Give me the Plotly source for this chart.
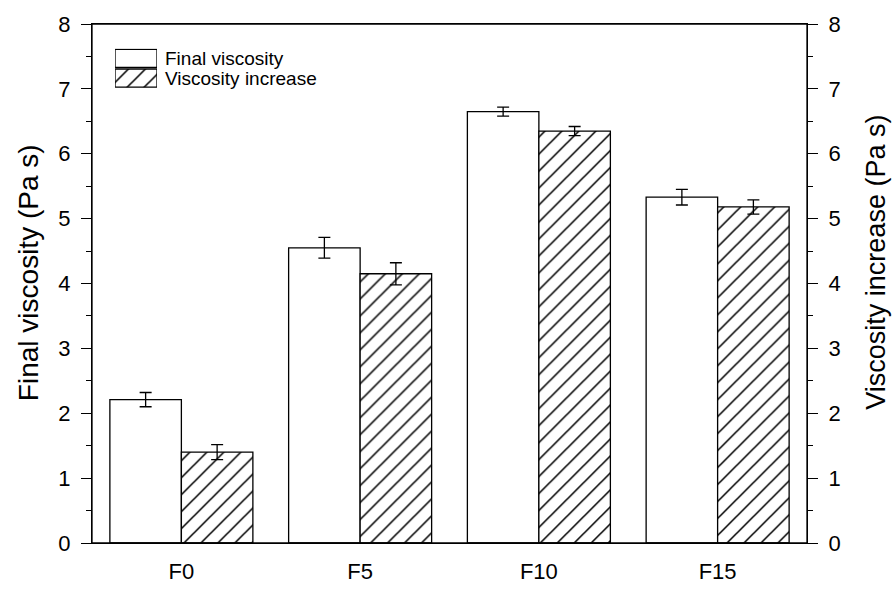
import plotly.graph_objects as go

# Sample formulations
categories = ["F0", "F5", "F10", "F15"]

# Final viscosity (Pa s) with standard deviation
final_name = "Final viscosity"
final_viscosity = [2.21, 4.55, 6.65, 5.33]
final_err = [0.11, 0.16, 0.07, 0.12]

# Viscosity increase (Pa s) with standard deviation
increase_name = "Viscosity increase"
viscosity_increase = [1.40, 4.15, 6.35, 5.18]
increase_err = [0.115, 0.17, 0.07, 0.11]

font_family = "Liberation Sans, Arial, sans-serif"
plain_fill = dict(color="white", line=dict(color="black", width=1.3))
hatch_fill = dict(color="white", line=dict(color="black", width=1.3),
                  pattern=dict(shape="/", fgcolor="black", bgcolor="white",
                               fgopacity=1, fillmode="replace",
                               size=12, solidity=0.13))

fig = go.Figure()

fig.add_trace(go.Bar(
    x=categories, y=final_viscosity, name=final_name,
    width=0.4, offset=-0.4, marker=plain_fill,
    error_y=dict(type="data", array=final_err, color="black", thickness=1.3, width=6),
))

fig.add_trace(go.Bar(
    x=categories, y=viscosity_increase, name=increase_name,
    width=0.4, offset=0.0, yaxis="y2", marker=hatch_fill,
    error_y=dict(type="data", array=increase_err, color="black", thickness=1.3, width=6),
))

# Key: two swatches drawn as bars on a small inset axis, labelled with the series names
for row, (label, fill) in enumerate([(increase_name, hatch_fill), (final_name, plain_fill)]):
    fig.add_trace(go.Bar(
        x=[1], y=[row + 0.5], base=0, orientation="h", width=0.92,
        xaxis="x3", yaxis="y3", marker=fill, cliponaxis=False,
        hoverinfo="skip", showlegend=False,
    ))
    fig.add_annotation(
        x=1, y=row + 0.5, xref="x3", yref="y3", text=label, showarrow=False,
        xanchor="left", yanchor="middle", xshift=6,
        font=dict(family=font_family, size=19, color="black"),
    )

axis_common = dict(
    range=[0, 8], dtick=1, ticks="outside", ticklen=10, tickwidth=1.3,
    tickcolor="black", showline=True, linecolor="black", linewidth=1.3,
    showgrid=False, zeroline=False, ticklabelstandoff=6,
    tickfont=dict(family=font_family, size=22, color="black"),
    minor=dict(dtick=0.5, ticks="outside", ticklen=5, tickwidth=1.3,
               tickcolor="black", showgrid=False),
)

fig.update_layout(
    width=892, height=596,
    margin=dict(l=92, r=85, t=17, b=35),
    plot_bgcolor="white", paper_bgcolor="white",
    barmode="overlay",
    showlegend=False,
    xaxis=dict(
        range=[-0.5, 3.5], showline=True, linecolor="black", linewidth=1.3,
        mirror="all", ticks="", showgrid=False, ticklabelstandoff=8,
        tickfont=dict(family=font_family, size=22, color="black"),
    ),
    yaxis=dict(**axis_common),
    yaxis2=dict(overlaying="y", side="right", anchor="x", **axis_common),
    xaxis3=dict(domain=[0.0322, 0.0909], range=[0, 1], anchor="y3", visible=False),
    yaxis3=dict(domain=[0.8768, 0.9528], range=[0, 2], anchor="x3", visible=False),
)

# Plot frame (top edge)
fig.add_shape(type="rect", xref="x domain", yref="y domain", x0=0, x1=1, y0=0, y1=1,
              line=dict(color="black", width=1.3), layer="above")

# Axis titles
fig.add_annotation(x=-0.0895, y=0.52, xref="paper", yref="paper",
                   text="Final viscosity (Pa s)", textangle=-90, showarrow=False,
                   xanchor="center", yanchor="middle",
                   font=dict(family=font_family, size=28, color="black"))
fig.add_annotation(x=1.0965, y=0.542, xref="paper", yref="paper",
                   text="Viscosity increase (Pa s)", textangle=-90, showarrow=False,
                   xanchor="center", yanchor="middle",
                   font=dict(family=font_family, size=27, color="black"))

fig.write_html("out.html")
